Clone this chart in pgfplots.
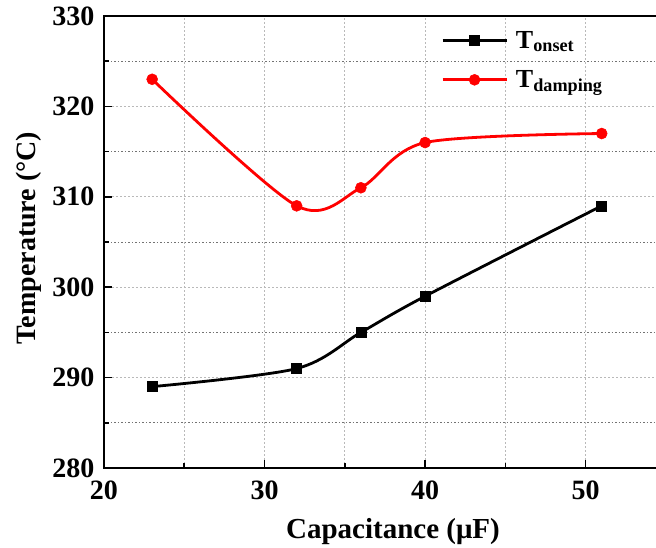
\documentclass[border=0pt]{standalone}
\usepackage{pgfplots}
\pgfplotsset{compat=1.18}
\usepackage{fontspec}
\setmainfont{Liberation Serif}

\begin{document}
\begin{tikzpicture}[x=1pt,y=1pt]
\begin{axis}[
  name=main,
  at={(0,0)}, anchor=south west,
  scale only axis,
  width=578pt, height=452pt,
  xmin=20, xmax=56, ymin=280, ymax=330,
  xtick={20,30,40,50}, ytick={280,290,...,330},
  minor xtick={25,35,45,55}, minor ytick={285,295,...,325},
  tick align=inside,
  xtick pos=bottom, ytick pos=left,
  major tick length=8pt, minor tick length=5pt,
  every tick/.style={black, line width=1.6pt},
  axis line style={line width=2.2pt},
  grid=both,
  major grid style={gray!55, line width=0.8pt, dash pattern=on 2pt off 2pt},
  minor y grid style={gray!90!black, line width=0.8pt, dash pattern=on 1.5pt off 2pt},
  minor x grid style={gray!55, line width=0.8pt, dash pattern=on 2pt off 2pt},
  /pgf/number format/assume math mode=true,
  ticklabel style={font=\fontsize{28}{30}\selectfont\bfseries},
  xticklabel style={yshift=-9pt},
  yticklabel style={xshift=-6pt},
  xlabel={Capacitance (μF)},
  ylabel={Temperature (°C)},
  xlabel style={font=\fontsize{29}{31}\selectfont\bfseries, yshift=-12pt},
  ylabel style={font=\fontsize{28}{30}\selectfont\bfseries, yshift=4pt, xshift=4pt},
  legend style={draw=none, fill=none, at={(axis cs:40.8,328.8)}, anchor=north west,
    font=\fontsize{26}{28}\selectfont\bfseries, row sep=17pt,
    /tikz/every odd column/.append style={column sep=6pt}},
  legend cell align=left,
  legend image code/.code={
    \draw[#1, mark=none] (0pt,0pt) -- (64pt,0pt);
    \draw[#1, only marks] plot coordinates {(32pt,0pt)};
  },
]
\addplot[black, line width=2.8pt, smooth, mark=square*, mark size=5pt,
  mark options={line width=0.5pt}]
  coordinates {(23,289) (32,291) (36,295) (40,299) (51,309)};
\addlegendentry{T\textsubscript{onset}}
\addplot[red, line width=2.8pt, smooth, mark=*, mark size=5.5pt,
  mark options={line width=0.5pt}]
  coordinates {(23,323) (32,309) (36,311) (40,316) (51,317)};
\addlegendentry{T\textsubscript{damping}}
\end{axis}
\pgfresetboundingbox
\useasboundingbox (-104,-80) rectangle (552,468);
\end{tikzpicture}
\end{document}
